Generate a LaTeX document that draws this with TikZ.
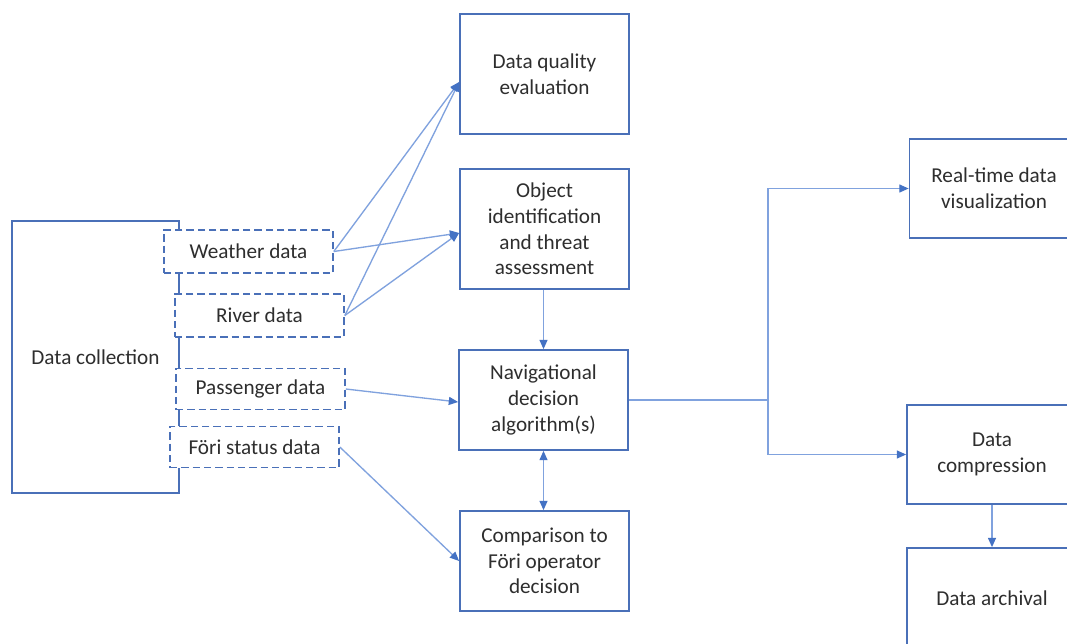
\documentclass[tikz,border=0pt]{standalone}
\usepackage{fontspec}
\setmainfont{Carlito}
\usetikzlibrary{arrows.meta,calc}
\definecolor{boxblue}{HTML}{4A70B8}
\definecolor{lineblue}{HTML}{80A2DE}
\definecolor{tipblue}{HTML}{4472C4}
\definecolor{txt}{HTML}{2E2E2E}
\begin{document}
\begin{tikzpicture}[x=0.75pt,y=-0.75pt,
  font=\fontsize{15.9}{19.2}\selectfont,
  box/.style={draw=boxblue, line width=1.3pt, fill=white, text=txt, align=center,
    inner sep=0pt, minimum width=126.75pt, minimum height=90pt},
  sbox/.style={box, minimum height=75pt},
  dbox/.style={draw=boxblue, line width=1.2pt, dash pattern=on 5.5pt off 3pt, fill=white,
    text=txt, align=center, inner sep=0pt, minimum width=126.75pt, minimum height=31pt},
  tip/.tip={Triangle[length=7pt,width=6pt,color=tipblue]},
  conn/.style={draw=lineblue, line width=1pt, -tip},
  plain/.style={draw=lineblue, line width=1pt}]
\useasboundingbox (0,0) rectangle (1067,643);
\clip (0,0) rectangle (1067,643);
\fill[white] (0,0) rectangle (1067,643);

% data collection and its parts
\node[box, minimum width=125.25pt, minimum height=204pt] (dc) at (95.5,357) {Data collection};
\node[dbox, minimum height=32.25pt] (weather) at (248.5,251.5) {Weather data};
\node[dbox, minimum height=32.25pt] (river) at (259.5,315.5) {River data};
\node[dbox] (pass) at (260.5,389) {Passenger data};
\node[dbox] (fori) at (254.5,447) {Föri status data};

% middle column
\node[box] (dqe) at (544.5,74) {Data quality\\evaluation};
\node[box] (obj) at (544.5,229) {Object\\identification\\and threat\\assessment};
\node[sbox] (nav) at (543.5,400) {Navigational\\decision\\algorithm(s)};
\node[sbox] (comp) at (544.5,561) {Comparison to\\Föri operator\\decision};

% right column
\node[box, minimum height=74.25pt] (rt) at (994,188.5) {Real-time data\\visualization};
\node[box, minimum width=127.5pt, minimum height=74.25pt] (dcomp) at (992,454.5) {Data\\compression};
\node[box, minimum width=127.5pt, minimum height=75pt] (darch) at (992,598) {Data archival};

% connectors
\draw[conn] (weather.east) -- ([yshift=-6pt]dqe.west);
\draw[conn] (weather.east) -- ([yshift=-3pt]obj.west);
\draw[conn] (river.east) -- ([yshift=-6pt]dqe.west);
\draw[conn] (river.east) -- ([yshift=-3pt]obj.west);
\draw[conn] (pass.east) -- ([yshift=-1.5pt]nav.west);
\draw[conn] (fori.east) -- (comp.west);
\draw[conn] (obj.south -| nav.north) -- (nav.north);
\draw[draw=lineblue, line width=1pt, tip-tip] (nav.south) -- (nav.south |- comp.north);
\coordinate (split) at (768,400);
\draw[plain] (nav.east) -- (split);
\draw[conn] (split) |- (rt.west);
\draw[conn] (split) |- (dcomp.west);
\draw[conn] (dcomp.south) -- (darch.north);
\end{tikzpicture}
\end{document}
